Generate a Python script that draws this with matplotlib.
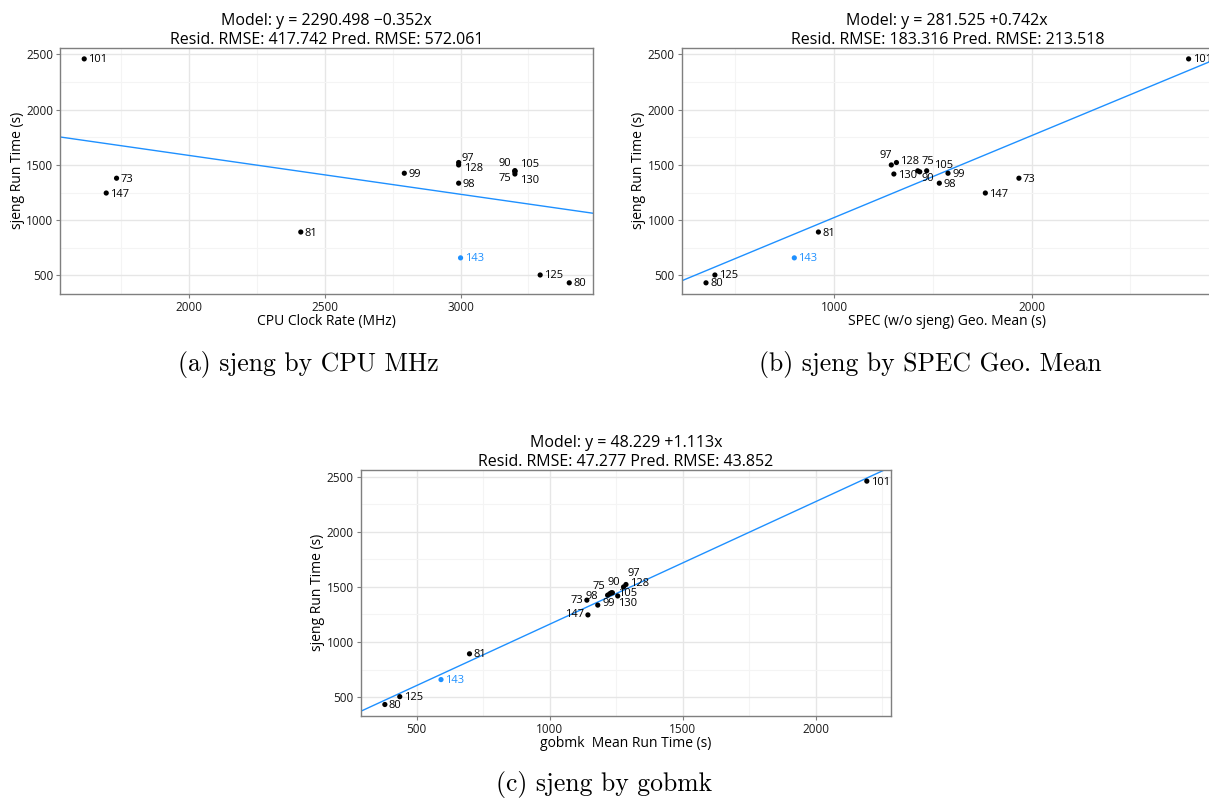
import matplotlib
matplotlib.use("Agg")
import matplotlib.pyplot as plt
from matplotlib.ticker import MultipleLocator, AutoMinorLocator
import numpy as np

plt.rcParams['font.family'] = ['Open Sans', 'DejaVu Sans']

ids = [73, 75, 80, 81, 90, 97, 98, 99, 101, 105, 125, 128, 130, 143, 147]
sjeng = [1380, 1438, 433, 893, 1447, 1500, 1335, 1425, 2460, 1447, 504, 1522, 1418, 659, 1246]
cpu_mhz = [1734, 3200, 3400, 2412, 3200, 2993, 2993, 2793, 1615, 3200, 3293, 2993, 3200, 3000, 1696]
spec_geo = [1936, 1434, 352, 921, 1424, 1290, 1533, 1577, 2795, 1469, 397, 1316, 1303, 799, 1766]
gobmk = [1140, 1226, 381, 699, 1232, 1278, 1181, 1218, 2192, 1236, 437, 1287, 1256, 592, 1144]
holdout = 143

# fitted models
intercepts = [2290.498, 281.525, 48.229]
slopes = [-0.352, 0.742, 1.113]
resid_rmse = [417.742, 183.316, 47.277]
pred_rmse = [572.061, 213.518, 43.852]

xlabels = ["CPU Clock Rate (MHz)", "SPEC (w/o sjeng) Geo. Mean (s)", "gobmk  Mean Run Time (s)"]
captions = ["(a) sjeng by CPU MHz", "(b) sjeng by SPEC Geo. Mean", "(c) sjeng by gobmk"]

BLUE = "#1E90FF"

# label offsets in pixels (dx, dy, ha) for points whose label is not just to the right
offsets_a = {97: (3, 6, 'left'), 128: (5, -6, 'left'), 90: (-4, 7, 'right'),
             75: (-4, -7, 'right'), 105: (5, 6, 'left'), 130: (5, -6, 'left')}
offsets_b = {97: (1, 9, 'right'), 128: (4, 1, 'left'), 75: (2, 10, 'left'),
             105: (7, 5, 'left'), 90: (4, -8, 'left')}
offsets_c = {73: (-4, 0, 'right'), 147: (-4, 0, 'right'), 98: (0, 9, 'right'),
             99: (-5, -8, 'left'), 130: (0, -8, 'left'), 105: (6, -1, 'left'),
             90: (-4, 10, 'left'), 75: (-4, 7, 'right'), 97: (4, 13, 'left'),
             128: (4, 1, 'left')}


def style_axes(ax, xmajor):
	ax.set_facecolor('white')
	for s in ax.spines.values():
		s.set_color('#7f7f7f')
		s.set_linewidth(1.0)
	ax.xaxis.set_major_locator(MultipleLocator(xmajor))
	ax.xaxis.set_minor_locator(AutoMinorLocator(2))
	ax.yaxis.set_major_locator(MultipleLocator(500))
	ax.yaxis.set_minor_locator(AutoMinorLocator(2))
	ax.grid(which='major', color='#e6e6e6', linewidth=1.0)
	ax.grid(which='minor', color='#f4f4f4', linewidth=0.8)
	ax.set_axisbelow(True)
	ax.tick_params(which='major', direction='out', length=3, width=0.8,
		color='#7f7f7f', labelsize=8.5, labelcolor='#1a1a1a', pad=2)
	ax.tick_params(which='minor', length=0)


def panel(ax, xs, k, offsets, xmajor):
	xs = np.array(xs, dtype=float)
	ys = np.array(sjeng, dtype=float)
	cols = [BLUE if i == holdout else 'black' for i in ids]
	ax.scatter(xs, ys, s=14, c=cols, zorder=3, linewidths=0)
	pad_x = 0.05 * (xs.max() - xs.min())
	pad_y = 0.05 * (ys.max() - ys.min())
	ax.set_xlim(xs.min() - pad_x, xs.max() + pad_x)
	ax.set_ylim(ys.min() - pad_y, ys.max() + pad_y)
	ax.axline((0, intercepts[k]), slope=slopes[k], color=BLUE, linewidth=1.0, zorder=2)
	for i, x, y, c in zip(ids, xs, ys, cols):
		dx, dy, ha = offsets.get(i, (4, -1, 'left'))
		ax.annotate(str(i), (x, y), xytext=(dx, dy), textcoords='offset pixels',
			ha=ha, va='center', fontsize=8, color=c, zorder=4)
	sign = '+' if slopes[k] >= 0 else '\u2212'
	ax.set_title("Model: y = %.3f %s%.3fx\nResid. RMSE: %.3f Pred. RMSE: %.3f"
		% (intercepts[k], sign, abs(slopes[k]), resid_rmse[k], pred_rmse[k]),
		fontsize=11.5, pad=3, linespacing=1.2)
	ax.set_xlabel(xlabels[k], fontsize=10, labelpad=0)
	ax.set_ylabel("sjeng Run Time (s)", fontsize=10, labelpad=1)
	style_axes(ax, xmajor)


fig = plt.figure(figsize=(12.09, 7.99), dpi=100)
ax1 = fig.add_axes([0.0496, 0.632, 0.4413, 0.3083])
ax2 = fig.add_axes([0.564, 0.632, 0.4391, 0.3083])
ax3 = fig.add_axes([0.2984, 0.1043, 0.4385, 0.3075])

panel(ax1, cpu_mhz, 0, offsets_a, 500)
panel(ax2, spec_geo, 1, offsets_b, 1000)
panel(ax3, gobmk, 2, offsets_c, 500)

cap_kw = dict(ha='center', va='center', fontsize=18.5, family='cmr10')
fig.text(308 / 1209, 1 - 365 / 799, captions[0], **cap_kw)
fig.text(930 / 1209, 1 - 365 / 799, captions[1], **cap_kw)
fig.text(604 / 1209, 1 - 785 / 799, captions[2], **cap_kw)

fig.savefig("out.png", dpi=100)
